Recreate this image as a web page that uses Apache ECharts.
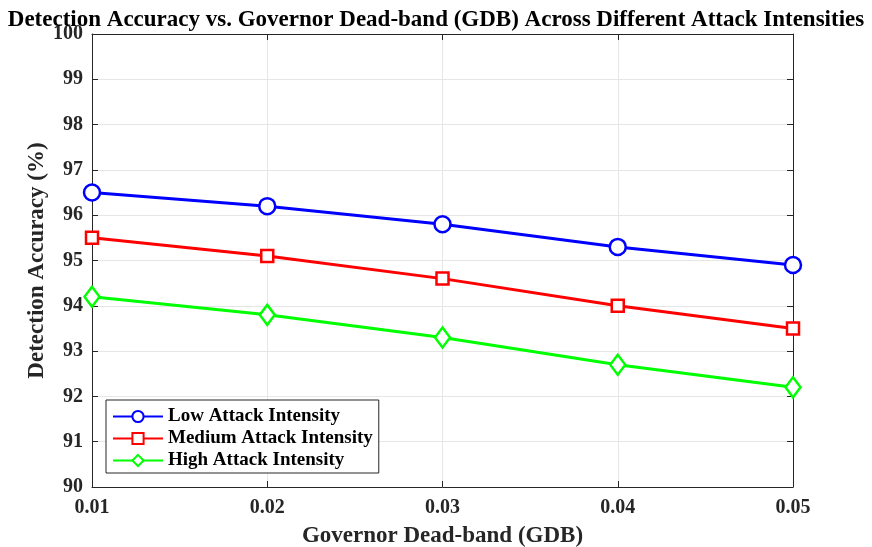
<!DOCTYPE html>
<html>
<head>
<meta charset="utf-8">
<script src="https://cdn.jsdelivr.net/npm/echarts@6/dist/echarts.min.js"></script>
<style>
  html, body { margin: 0; padding: 0; background: #fff; }
  #main { width: 872px; height: 547px; }
</style>
</head>
<body>
<div id="main"></div>
<script>
var gdb = [0.01, 0.02, 0.03, 0.04, 0.05];
var lowAttack = [96.5, 96.2, 95.8, 95.3, 94.9];
var mediumAttack = [95.5, 95.1, 94.6, 94.0, 93.5];
var highAttack = [94.2, 93.8, 93.3, 92.7, 92.2];

function pairs(xs, ys) {
    var out = [];
    for (var i = 0; i < xs.length; i++) {
        out.push([xs[i], ys[i]]);
    }
    return out;
}

var font = 'Liberation Serif';
var myChart = echarts.init(document.getElementById('main'));

// 框线 + 向内刻度 (MATLAB 风格)
var frameAxis = {
    axisLine: { show: true, lineStyle: { color: '#262626', width: 1 } },
    axisTick: { show: true, inside: true, length: 6, lineStyle: { color: '#262626' } },
    axisLabel: { show: false },
    splitLine: { show: false }
};

var option = {
    backgroundColor: '#fff',
    animation: false,
    title: {
        text: 'Detection Accuracy vs. Governor Dead-band (GDB) Across Different Attack Intensities',
        left: 'center',
        top: 4,
        textStyle: { fontFamily: font, fontWeight: 'bold', fontSize: 23, color: '#000' }
    },
    legend: {
        orient: 'vertical',
        left: 106,
        top: 400,
        width: 272,
        itemWidth: 50,
        itemHeight: 14,
        itemGap: 3,
        padding: [7, 6, 3, 6],
        borderColor: '#262626',
        borderWidth: 1,
        backgroundColor: '#fff',
        textStyle: { fontFamily: font, fontWeight: 'bold', fontSize: 19, color: '#000' },
        data: ['Low Attack Intensity', 'Medium Attack Intensity', 'High Attack Intensity']
    },
    grid: { left: 92, right: 79, top: 34, bottom: 60, outerBoundsMode: 'none' },
    xAxis: [
        {
            type: 'value',
            min: 0.01,
            max: 0.05,
            interval: 0.01,
            name: 'Governor Dead-band (GDB)',
            nameLocation: 'middle',
            nameGap: 38,
            nameMoveOverlap: false,
            nameTextStyle: { fontFamily: font, fontWeight: 'bold', fontSize: 23, color: '#262626' },
            axisLine: { show: true, onZero: false, lineStyle: { color: '#262626', width: 1 } },
            axisTick: { show: true, inside: true, length: 6, lineStyle: { color: '#262626' } },
            axisLabel: {
                margin: 11,
                fontFamily: font, fontWeight: 'bold', fontSize: 20, color: '#262626',
                formatter: function (v) { return v.toFixed(2); }
            },
            splitLine: { show: true, lineStyle: { color: '#e6e6e6', width: 1 } }
        },
        Object.assign({ type: 'value', position: 'top', min: 0.01, max: 0.05, interval: 0.01 }, frameAxis)
    ],
    yAxis: [
        {
            type: 'value',
            min: 90,
            max: 100,
            interval: 1,
            name: 'Detection Accuracy (%)',
            nameLocation: 'middle',
            nameGap: 43,
            nameMoveOverlap: false,
            nameTextStyle: { fontFamily: font, fontWeight: 'bold', fontSize: 23, color: '#262626' },
            axisLine: { show: true, lineStyle: { color: '#262626', width: 1 } },
            axisTick: { show: true, inside: true, length: 6, lineStyle: { color: '#262626' } },
            axisLabel: { margin: 9, fontFamily: font, fontWeight: 'bold', fontSize: 20, color: '#262626' },
            splitLine: { show: true, lineStyle: { color: '#e6e6e6', width: 1 } }
        },
        Object.assign({ type: 'value', position: 'right', min: 90, max: 100, interval: 1 }, frameAxis)
    ],
    series: [
        {
            name: 'Low Attack Intensity',
            type: 'line',
            data: pairs(gdb, lowAttack),
            symbol: 'circle',
            symbolSize: 16,
            lineStyle: { color: '#0000ff', width: 3 },
            itemStyle: { color: '#fff', borderColor: '#0000ff', borderWidth: 2.5 },
            z: 3
        },
        {
            name: 'Medium Attack Intensity',
            type: 'line',
            data: pairs(gdb, mediumAttack),
            symbol: 'rect',
            symbolSize: 12,
            lineStyle: { color: '#ff0000', width: 3 },
            itemStyle: { color: '#fff', borderColor: '#ff0000', borderWidth: 2.5 },
            z: 3
        },
        {
            name: 'High Attack Intensity',
            type: 'line',
            data: pairs(gdb, highAttack),
            symbol: 'diamond',
            symbolSize: [15, 20],
            lineStyle: { color: '#00ff00', width: 3 },
            itemStyle: { color: '#fff', borderColor: '#00ff00', borderWidth: 2.5 },
            z: 3
        }
    ]
};

myChart.setOption(option);
</script>
</body>
</html>
